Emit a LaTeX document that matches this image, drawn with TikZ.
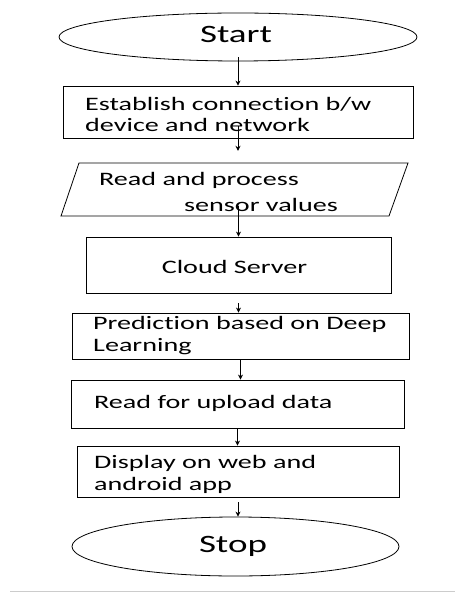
\documentclass[tikz,border=0pt]{standalone}
\usepackage{fontspec}
\setmainfont[FakeStretch=1.48, Ligatures=CommonOff]{Carlito}
\usetikzlibrary{shapes.geometric,arrows.meta}
\tikzset{
  term/.style={draw, ellipse, line width=0.8pt, inner sep=0pt},
  termtext/.style={anchor=base, inner sep=0pt, font=\fontsize{25}{30}\selectfont},
  procbox/.style={draw, rectangle, line width=0.8pt, inner sep=0pt},
  lbltext/.style={anchor=base west, inner sep=0pt, align=left, font=\fontsize{19}{21.5}\selectfont},
  arr/.style={line width=0.8pt, -{Stealth[length=5pt,width=5pt]}}
}
\begin{document}
\begin{tikzpicture}[x=1pt,y=-1pt]
\useasboundingbox (0,0) rectangle (455,593);
% Start
\node[term, minimum width=358pt, minimum height=48pt] (start) at (238,37) {};
\node[termtext] (starttext) at (236,43) {Start};
% Box 1
\node[procbox, minimum width=350pt, minimum height=52pt] (b1) at (238,112) {};
\node[lbltext] (t1) at (85,132) {Establish connection b/w\\device and network};
% Parallelogram
\coordinate (pa) at (79,163);
\coordinate (pb) at (408,163);
\coordinate (pc) at (389,216);
\coordinate (pd) at (61,216);
\draw[line width=0.8pt] (pa) -- (pb) -- (pc) -- (pd) -- cycle;
\node[inner sep=0pt, minimum width=329pt, minimum height=53pt] (para) at (234.5,189.5) {};
\node[lbltext] (p1) at (99,186) {Read and process};
\node[lbltext] (p2) at (184,212) {sensor values};
% Cloud server
\node[procbox, minimum width=305pt, minimum height=56pt] (cloud) at (238.5,265) {};
\node[lbltext, anchor=base] (ct) at (234.5,273) {Cloud Server};
% Prediction
\node[procbox, minimum width=337pt, minimum height=46pt] (pred) at (240.5,336) {};
\node[lbltext] (t2) at (93,351) {Prediction based on Deep\\Learning};
% Upload
\node[procbox, minimum width=333pt, minimum height=48pt] (upl) at (237.5,404) {};
\node[lbltext] (t3) at (94,408) {Read for upload data};
% Display
\node[procbox, minimum width=322pt, minimum height=51pt] (disp) at (238,471.5) {};
\node[lbltext] (t4) at (94,490) {Display on web and\\android app};
% Stop
\node[term, minimum width=327pt, minimum height=59pt] (stop) at (235.5,546.5) {};
\node[termtext] (stoptext) at (233,552) {Stop};
% connectors
\draw[arr] ([yshift=4pt]start.south) -- (b1.north);
\draw[arr] ([yshift=12pt]b1.south) -- ([yshift=12pt]b1.south |- para.north);
\draw[arr] ([yshift=10pt]cloud.north |- para.south) -- (cloud.north);
\draw[arr] ([yshift=-10pt]cloud.south) -- (cloud.south |- pred.north);
\draw[arr] (pred.south) -- (pred.south |- upl.north);
\draw[arr] (upl.south) -- (upl.south |- disp.north);
\draw[arr] ([yshift=-5pt]disp.south) -- (disp.south |- stop.north);
% bottom rule
\draw[gray!40, line width=1pt] (10,591) -- (455,591);
\end{tikzpicture}
\end{document}
